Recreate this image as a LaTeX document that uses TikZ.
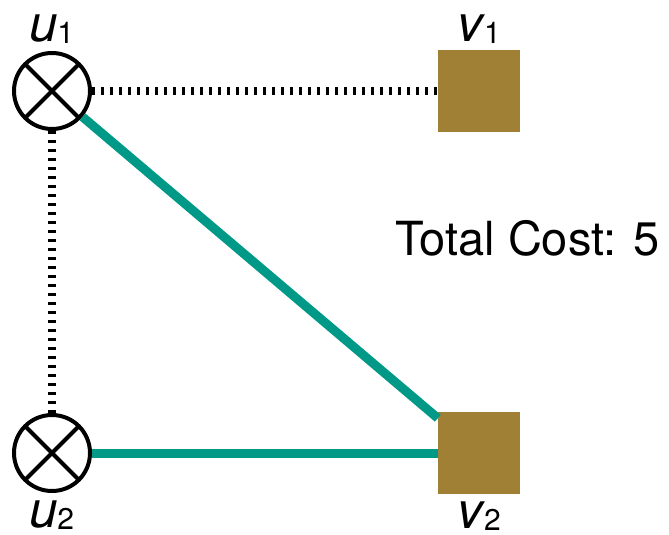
\documentclass[tikz,border=0pt]{standalone}
\usepackage{fontspec}
\setmainfont{TeX Gyre Heros}
\usetikzlibrary{positioning}
\definecolor{edgeteal}{RGB}{0,153,136}
\definecolor{sinkgold}{RGB}{160,128,52}
\newcommand{\vname}[2]{\textit{#1}\kern-1pt\raisebox{-2pt}{\fontsize{30}{30}\selectfont #2}}

\begin{document}
\begin{tikzpicture}[x=1pt, y=-1pt,
    src/.style={draw, circle, line width=4pt, minimum size=76pt, inner sep=0pt,
        path picture={\draw[line width=4pt]
            (path picture bounding box.north west) -- (path picture bounding box.south east)
            (path picture bounding box.north east) -- (path picture bounding box.south west);}},
    snk/.style={fill=sinkgold, minimum size=82pt, inner sep=0pt},
    lbl/.style={font=\fontsize{51}{60}\selectfont, inner sep=0pt},
    match/.style={line width=9pt, edgeteal},
    unmatch/.style={line width=8pt, dash pattern=on 3pt off 6pt},
    on grid,
]
    \useasboundingbox (0,0) rectangle (669,535);

    \node[src, label={[lbl, label distance=7pt]above:\vname{u}{1}}] (u1) at (52,91) {};
    \node[snk, right=427pt of u1, label={[lbl, label distance=6pt]above:\vname{v}{1}}] (v1) {};
    \node[src, below=362pt of u1, label={[lbl, label distance=8pt]below:\vname{u}{2}}] (u2) {};
    \node[snk, right=427pt of u2, label={[lbl, label distance=7pt]below:\vname{v}{2}}] (v2) {};
    \node[font=\fontsize{47}{56}\selectfont, anchor=base west, inner sep=0pt] (cost) at (395,255) {Total Cost: 5};

    % unmatched pairs
    \draw[unmatch] (u1) -- (v1);
    \draw[unmatch] (u1) -- (u2);
    % matched pairs
    \draw[match] (u1) -- (v2);
    \draw[match] (u2) -- (v2);
\end{tikzpicture}
\end{document}
